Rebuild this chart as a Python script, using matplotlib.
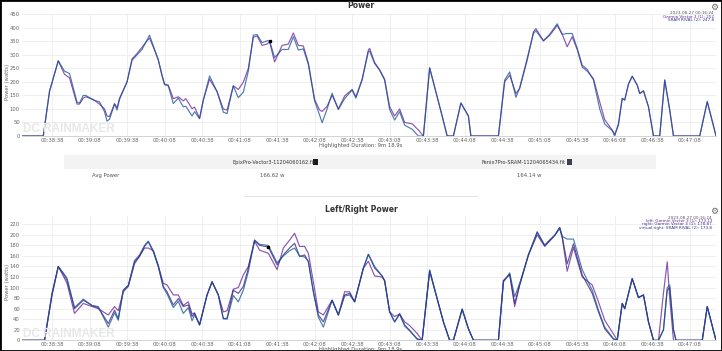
import matplotlib
matplotlib.use("Agg")
import matplotlib.pyplot as plt
from matplotlib.patches import Rectangle
from matplotlib.lines import Line2D

W, H = 722, 351

# ---------------- data ----------------
# seconds since 00:38:14
t_top = [0, 17, 22, 29, 34, 38, 44, 46, 49, 51, 57, 62, 66, 68, 70, 74, 76, 78, 84, 88,
         92, 96, 100, 102, 106, 109, 112, 114, 117, 121, 125, 129, 131, 136, 138, 142, 145, 150, 156, 161,
         164, 169, 173, 177, 181, 185, 188, 192, 196, 198, 202, 208, 213, 217, 221, 225, 229, 234, 238, 240,
         244, 248, 253, 258, 264, 267, 272, 277, 278, 282, 286, 290, 294, 298, 302, 306, 312, 317, 321, 326,
         332, 336, 340, 345, 351, 357, 359, 381, 386, 390, 395, 398, 404, 409, 411, 417, 422, 428, 432, 436,
         440, 444, 448, 452, 457, 462, 466, 472, 474, 477, 480, 482, 485, 488, 492, 494, 497, 501, 505, 510,
         514, 518, 521, 542, 548, 553, 555]
sram_total = [0, 0, 165, 278, 240, 231, 125, 122, 150, 150, 133, 126, 90, 55, 62, 118, 96, 135, 200, 280,
              300, 320, 355, 373, 320, 283, 222, 190, 185, 120, 140, 108, 110, 74, 90, 64, 133, 222, 164, 88,
              83, 185, 142, 162, 240, 373, 375, 345, 352, 352, 290, 320, 320, 367, 318, 322, 265, 130, 77, 49,
              100, 158, 98, 138, 170, 140, 207, 312, 314, 268, 243, 207, 98, 59, 90, 40, 25, 0, 0, 252,
              145, 74, 0, 0, 122, 74, 0, 0, 207, 237, 143, 179, 287, 379, 389, 352, 376, 415, 376, 379,
              379, 324, 262, 246, 207, 100, 44, 20, 0, 47, 139, 133, 192, 221, 188, 157, 167, 108, 0, 0,
              207, 96, 0, 0, 127, 37, 0]
garmin_total = [0, 0, 165, 278, 228, 215, 118, 118, 140, 145, 135, 118, 100, 74, 72, 120, 104, 140, 200, 285,
                305, 328, 352, 362, 318, 280, 225, 192, 188, 138, 145, 130, 138, 101, 107, 65, 133, 210, 164, 100,
                96, 186, 172, 199, 250, 365, 370, 335, 340, 348, 274, 335, 340, 381, 335, 333, 270, 135, 96, 91,
                110, 151, 100, 148, 172, 145, 210, 318, 324, 272, 245, 210, 108, 74, 100, 50, 45, 22, 0, 252,
                145, 74, 0, 0, 122, 74, 0, 0, 200, 225, 157, 175, 280, 385, 397, 352, 372, 409, 376, 330,
                367, 320, 255, 240, 212, 126, 60, 22, 5, 40, 139, 133, 192, 221, 188, 157, 167, 108, 0, 0,
                207, 96, 0, 0, 127, 37, 0]

t_lr = [0, 18, 24, 29, 33, 36, 42, 49, 56, 61, 69, 74, 77, 81, 85, 90, 94, 98, 101, 105,
        109, 113, 116, 121, 125, 129, 133, 136, 138, 142, 148, 152, 157, 161, 164, 169, 173, 177, 181, 186,
        190, 197, 204, 209, 214, 218, 222, 226, 229, 233, 237, 241, 248, 253, 258, 262, 266, 273, 277, 282,
        288, 290, 294, 298, 302, 306, 310, 316, 320, 326, 332, 337, 342, 345, 352, 357, 361, 381, 385, 390,
        394, 398, 405, 412, 418, 422, 426, 430, 432, 436, 441, 448, 456, 461, 466, 473, 476, 480, 482, 488,
        493, 497, 501, 505, 509, 513, 516, 518, 521, 523, 544, 548, 553, 555]
left_garmin = [0, 0, 86, 140, 122, 108, 51, 70, 64, 60, 48, 64, 56, 92, 102, 145, 160, 175, 175, 170,
               142, 108, 105, 86, 86, 66, 73, 50, 52, 29, 86, 111, 86, 54, 56, 97, 100, 124, 140, 188,
               171, 165, 134, 175, 190, 203, 178, 178, 165, 111, 54, 48, 76, 48, 92, 92, 73, 137, 150, 122,
               120, 113, 54, 45, 50, 35, 28, 13, 0, 130, 79, 35, 0, 0, 59, 22, 0, 0, 113, 125,
               64, 105, 162, 200, 178, 188, 199, 212, 195, 131, 176, 120, 105, 73, 38, 12, 0, 70, 60, 117,
               81, 86, 35, 0, 0, 90, 149, 80, 0, 0, 0, 64, 18, 0]
right_garmin = [0, 0, 86, 140, 126, 114, 60, 76, 66, 62, 32, 57, 41, 95, 104, 149, 159, 178, 187, 168,
                140, 102, 92, 67, 79, 64, 67, 45, 51, 29, 86, 111, 86, 41, 42, 95, 89, 102, 137, 190,
                180, 177, 143, 162, 175, 184, 159, 162, 149, 92, 48, 35, 76, 48, 86, 89, 73, 137, 163, 137,
                122, 113, 54, 35, 50, 29, 19, 3, 0, 133, 79, 35, 0, 0, 59, 22, 0, 0, 113, 125,
                70, 105, 162, 206, 180, 190, 199, 214, 197, 145, 183, 124, 89, 54, 22, 2, 0, 70, 60, 117,
                81, 86, 35, 0, 0, 20, 95, 100, 20, 0, 0, 64, 18, 0]
vright_sram = [0, 0, 90, 140, 128, 118, 62, 78, 66, 64, 25, 52, 38, 95, 104, 151, 162, 180, 188, 170,
               140, 100, 88, 62, 74, 51, 62, 37, 48, 30, 86, 111, 86, 41, 40, 85, 73, 95, 130, 190,
               182, 180, 147, 160, 170, 175, 160, 158, 150, 92, 44, 25, 76, 48, 84, 86, 73, 137, 163, 140,
               122, 113, 54, 35, 50, 27, 18, 2, 0, 133, 79, 35, 0, 0, 59, 22, 0, 0, 110, 128,
               83, 108, 162, 204, 180, 190, 199, 214, 197, 192, 192, 134, 95, 57, 25, 3, 0, 70, 60, 117,
               81, 86, 35, 0, 0, 20, 100, 105, 20, 0, 0, 64, 18, 0]

tick_secs = [24, 54, 84, 114, 144, 174, 204, 234, 264, 294, 324, 354, 384, 414, 444, 474, 504, 534]
tick_labels = ["00:38:38", "00:39:08", "00:39:38", "00:40:08", "00:40:38", "00:41:08",
               "00:41:38", "00:42:08", "00:42:38", "00:43:08", "00:43:38", "00:44:08",
               "00:44:38", "00:45:08", "00:45:38", "00:46:08", "00:46:38", "00:47:08"]
top_yticks = [0, 50, 100, 150, 200, 250, 300, 350, 400, 450]
lr_yticks = [0, 20, 40, 60, 80, 100, 120, 140, 160, 180, 200, 220]

file_names = ["EpixPro-Vector3-11204060162.fit", "Fenix7Pro-SRAM-11204065434.fit"]
avg_power = ["166.62 w", "164.14 w"]

# ---------------- styling ----------------
C_GARMIN = (100/255, 30/255, 150/255, 0.75)
C_RIGHT = (45/255, 30/255, 120/255, 0.75)
C_SRAM = (20/255, 80/255, 150/255, 0.75)
GRID = "#ececec"
TXT = "#666666"

fig = plt.figure(figsize=(W / 100, H / 100), dpi=100)
fig.patch.set_facecolor("white")


def fx(x):
    return x / W


def fy(y):
    return 1 - y / H


def style_axes(ax, yticks, ymax):
    ax.set_xlim(0, 555)
    ax.set_ylim(0, ymax)
    ax.set_xticks(tick_secs)
    ax.set_xticklabels(tick_labels)
    ax.set_yticks(yticks)
    ax.tick_params(axis="both", labelsize=3.8, colors=TXT, length=0, pad=1.5)
    ax.grid(True, color=GRID, lw=0.6)
    ax.set_axisbelow(True)
    for s in ["top", "right", "left"]:
        ax.spines[s].set_visible(False)
    ax.spines["bottom"].set_color("#cccccc")
    ax.spines["bottom"].set_linewidth(0.6)


# top chart
ax1 = fig.add_axes([fx(22), fy(136), 694 / W, (136 - 14.3) / H])
style_axes(ax1, top_yticks, 450)
ax1.plot(t_top, garmin_total, color=C_GARMIN, lw=0.85, solid_joinstyle="round")
ax1.plot(t_top, sram_total, color=C_SRAM, lw=0.85, solid_joinstyle="round")
i_top = t_top.index(198)
ax1.plot([t_top[i_top]], [sram_total[i_top]], marker="s", ms=1.5, color="black")

# bottom chart
ax2 = fig.add_axes([fx(22), fy(340.3), 694 / W, (340.3 - 216.4) / H])
style_axes(ax2, lr_yticks, 235)
ax2.plot(t_lr, left_garmin, color=C_GARMIN, lw=0.85, solid_joinstyle="round")
ax2.plot(t_lr, right_garmin, color=C_RIGHT, lw=0.85, solid_joinstyle="round")
ax2.plot(t_lr, vright_sram, color=C_SRAM, lw=0.85, solid_joinstyle="round")
i_lr = t_lr.index(197)
ax2.plot([t_lr[i_lr]], [right_garmin[i_lr]], marker="s", ms=1.5, color="black")

# watermarks
for yb in (135.5, 340):
    fig.text(fx(23), fy(yb), "DC RAINMAKER", fontsize=8.5, fontweight="bold",
             family=["Liberation Sans Narrow", "Liberation Sans", "DejaVu Sans"],
             color="#e8e8e8", ha="left", va="bottom", zorder=0)

# titles
fig.text(fx(361), fy(5), "Power", ha="center", va="center", fontsize=5.5, fontweight="bold", color="#333333")
fig.text(fx(361), fy(209), "Left/Right Power", ha="center", va="center", fontsize=5.5,
         fontweight="bold", color="#333333")
for gy in (7, 211):
    fig.text(fx(714), fy(gy), "\u2699", ha="center", va="center", fontsize=6.5, color="#666666")

# y labels
for cy in (82, 282):
    fig.text(fx(7.5), fy(cy), "Power (watts)", rotation=90, ha="center", va="center",
             fontsize=3.8, color=TXT)

# legends
fig.text(fx(714), fy(13.3), "2023-08-27 00:16:24", ha="right", va="center", fontsize=3, color="#555555")
fig.text(fx(714), fy(16.7), "Garmin Vector 3 (1): 252", ha="right", va="center", fontsize=3, color="#6a2a9a")
fig.text(fx(714), fy(20), "SRAM RIVAL (2): 247.8", ha="right", va="center", fontsize=3, color="#2a3a8a")

fig.text(fx(712), fy(217.7), "2023-08-27 00:16:24", ha="right", va="center", fontsize=3, color="#555555")
fig.text(fx(712), fy(221), "left: Garmin Vector 3 (1): 173.13", ha="right", va="center", fontsize=3, color="#6a2a9a")
fig.text(fx(712), fy(224.3), "right: Garmin Vector 3 (1): 178.87", ha="right", va="center", fontsize=3, color="#4a2a8a")
fig.text(fx(712), fy(227.7), "virtual right: SRAM RIVAL (2): 173.8", ha="right", va="center", fontsize=3, color="#2a3a8a")

# highlighted duration
fig.text(fx(361), fy(146), "Highlighted Duration: 9m 18.9s", ha="center", va="center", fontsize=3.8, color="#555555")
fig.text(fx(361), fy(349.5), "Highlighted Duration: 9m 18.9s", ha="center", va="center", fontsize=3.8, color="#555555")

# table
fig.patches.append(Rectangle((fx(64), fy(169.3)), (656 - 64) / W, (169.3 - 155) / H,
                             transform=fig.transFigure, facecolor="#f3f3f3", edgecolor="none", zorder=0))
hdr_x = [274, 523]
icon_x = [315, 569]
icon_c = ["#1a1a1a", "#3a3f55"]
for hx, ix, ic, name in zip(hdr_x, icon_x, icon_c, file_names):
    fig.text(fx(hx), fy(162.3), name, ha="center", va="center", fontsize=3.6, color="#333333")
    fig.patches.append(Rectangle((fx(ix - 2.5), fy(165)), 5 / W, 6 / H, transform=fig.transFigure,
                                 facecolor=ic, edgecolor="none"))
fig.text(fx(106), fy(175), "Avg Power", ha="center", va="center", fontsize=3.8, color="#555555")
for vx, v in zip([272, 529], avg_power):
    fig.text(fx(vx), fy(175), v, ha="center", va="center", fontsize=3.8, color="#555555")
fig.lines.append(Line2D([fx(244), fx(477)], [fy(195.7), fy(195.7)], transform=fig.transFigure,
                        color="#dddddd", lw=0.6))

# outer frame
fig.patches.append(Rectangle((0, 0), 1, 1, transform=fig.transFigure, fill=False,
                             edgecolor="black", lw=2.0))

fig.savefig("out.png", dpi=100, facecolor="white")
